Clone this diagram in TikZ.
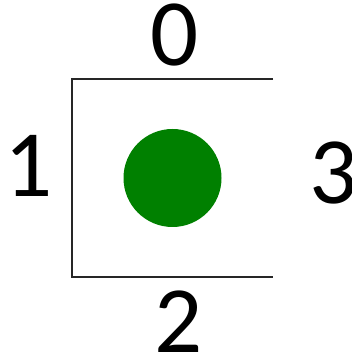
\documentclass[tikz,border=0pt]{standalone}
\usepackage{fontspec}
\setmainfont{Carlito}
\definecolor{dotgreen}{RGB}{0,128,0}
\begin{document}
\begin{tikzpicture}[x=1pt,y=1pt,
  lbl/.style={anchor=base,inner sep=0pt,text height=61pt,text depth=0pt,font=\fontsize{95}{95}\selectfont},
  edge/.style={draw=black!85,line width=1.6pt}]
\useasboundingbox (0,0) rectangle (352,363);
\coordinate (tl) at (72,284);
\coordinate (tr) at (273,284);
\coordinate (bl) at (72,86);
\coordinate (br) at (273,86);
\draw[edge] (tr) -- (tl) -- (bl) -- (br);
\fill[dotgreen] (172.5,185) circle (49);
\node[lbl] (n0) at (175,297) {0};
\node[lbl] (n1) at (29,166) {1};
\node[lbl,inner xsep=-6pt] (n3) at (334,159) {3};
\node[lbl] (n2) at (179,10) {2};
\end{tikzpicture}
\end{document}
